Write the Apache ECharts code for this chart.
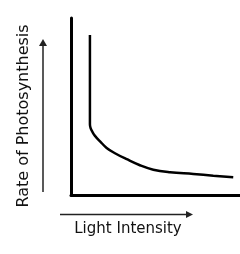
<!DOCTYPE html>
<html>
<head>
<meta charset="utf-8">
<script src="https://cdn.jsdelivr.net/npm/echarts@6/dist/echarts.min.js"></script>
<style>
  html, body { margin: 0; padding: 0; background: #fff; }
  #chart { width: 240px; height: 254px; }
</style>
</head>
<body>
<div id="chart"></div>
<script>
// light intensity (relative units, 0-100)
var lightIntensity = [11.2, 11.2, 11.6, 12.6, 14.2, 17.2, 21.1, 26, 33, 40.8, 48.7, 58.6, 72.4, 84.2, 96];
// rate of photosynthesis (relative units, 0-100)
var photoRate = [90.4, 40, 37.8, 35.8, 33.4, 30.3, 26.6, 23.6, 20.2, 16.8, 14.3, 12.9, 11.9, 10.9, 10];

var xTitle = 'Light Intensity';
var yTitle = 'Rate of Photosynthesis';

var curve = [];
for (var i = 0; i < lightIntensity.length; i++) {
    curve.push([lightIntensity[i], photoRate[i]]);
}

var chart = echarts.init(document.getElementById('chart'));

// arrows next to the axis titles
var arrowColor = '#222';

chart.setOption({
    animation: false,
    grid: { left: 71, right: 0, top: 18, bottom: 59 },
    xAxis: {
        type: 'value', min: 0, max: 100,
        axisLine: { lineStyle: { color: '#000', width: 3 } },
        axisTick: { show: false }, axisLabel: { show: false }, splitLine: { show: false }
    },
    yAxis: {
        type: 'value', min: 0, max: 100,
        axisLine: { lineStyle: { color: '#000', width: 3 } },
        axisTick: { show: false }, axisLabel: { show: false }, splitLine: { show: false }
    },
    series: [{
        type: 'line',
        data: curve,
        showSymbol: false,
        smooth: 0.4,
        lineStyle: { color: '#000', width: 2.5 }
    }],
    graphic: [
        { type: 'line', shape: { x1: 43, y1: 45, x2: 43, y2: 192 }, style: { stroke: arrowColor, lineWidth: 1.5 } },
        { type: 'polygon', shape: { points: [[43, 39], [39, 46], [47, 46]] }, style: { fill: arrowColor } },
        { type: 'line', shape: { x1: 60, y1: 214.5, x2: 187, y2: 214.5 }, style: { stroke: arrowColor, lineWidth: 1.5 } },
        { type: 'polygon', shape: { points: [[193, 214.5], [186, 211], [186, 218]] }, style: { fill: arrowColor } },
        {
            type: 'text', x: 128, y: 229,
            style: { text: xTitle, fontFamily: 'DejaVu Sans', fontSize: 15, fill: '#111', align: 'center', verticalAlign: 'middle' }
        },
        {
            type: 'text', x: 23.5, y: 116, rotation: Math.PI / 2,
            style: { text: yTitle, fontFamily: 'DejaVu Sans', fontSize: 16, fill: '#111', align: 'center', verticalAlign: 'middle' }
        }
    ]
});
</script>
</body>
</html>
